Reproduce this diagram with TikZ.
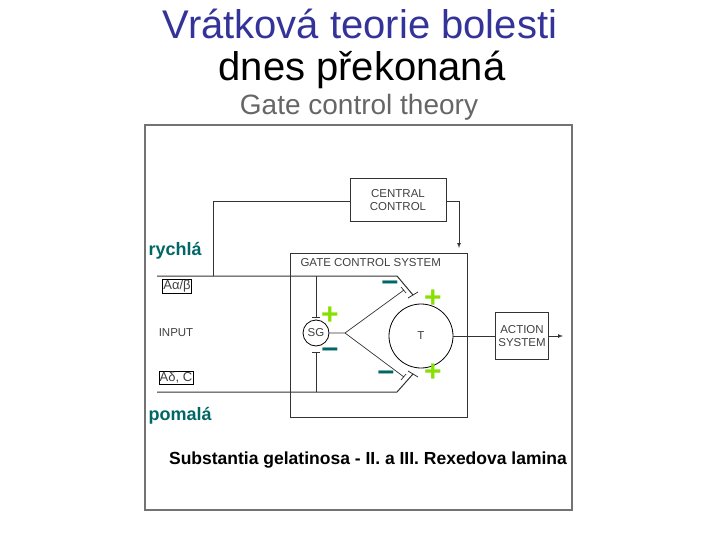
\documentclass[tikz,border=0pt]{standalone}
\usepackage{fontspec}
\setmainfont{Liberation Sans}
\begin{document}
\begin{tikzpicture}[x=1pt,y=-1pt,
  ln/.style={line width=1pt,black!80},
  bx/.style={draw=black!80,line width=0.9pt},
  sm/.style={font=\fontsize{11.5}{12.5}\selectfont,text=black!75,align=center},
  plus/.style={text=green!60!black!30!lime,font=\fontsize{30}{30}\selectfont\bfseries},
  minus/.style={text=teal!80!black,font=\fontsize{30}{30}\selectfont\bfseries},
  lab/.style={text=teal!80!black,font=\fontsize{18}{20}\selectfont\bfseries}]
\useasboundingbox (0,0) rectangle (720,540);
\node (t1) at (360,24) {\fontsize{40}{42}\selectfont\color[rgb]{0.2,0.2,0.6}Vrátková teorie bolesti};
\node (t2) at (362,70) {\fontsize{40}{42}\selectfont dnes překonaná};
\node (t3) at (359,107) {\fontsize{28}{30}\selectfont\color{black!60}Gate control theory};
\draw[draw=black!55,line width=1.8pt] (145,125) rectangle (572,510);
\node[bx,minimum width=96,minimum height=43,sm] (cc) at (398,200) {CENTRAL\\CONTROL};
\draw[bx] (290,253) rectangle (467,417);
\node[sm,anchor=west] (gcs) at (297,263) {GATE CONTROL SYSTEM};
\node[draw,circle,minimum size=26,inner sep=0,sm,line width=0.8pt] (sg) at (316,333) {SG};
\node[draw,circle,minimum size=64,inner sep=0,sm,line width=0.8pt] (T) at (421,336) {T};
\node[bx,minimum width=53,minimum height=47,sm,inner sep=1pt] (as) at (522,336) {ACTION\\SYSTEM};
\node[draw,sm,inner sep=1pt,font=\fontsize{13}{14}\selectfont] (ab) at (177,286) {Aα/β};
\node[sm,font=\fontsize{11.5}{12}\selectfont] (in) at (176,333) {INPUT};
\node[draw,sm,inner sep=1pt,font=\fontsize{13}{14}\selectfont] (ad) at (176,378) {Aδ, C};
\coordinate (a1) at (157,276); \coordinate (a2) at (397,276); \coordinate (a3) at (413,295);
\coordinate (b1) at (157,392); \coordinate (b2) at (397,392); \coordinate (b3) at (413,374);
\coordinate (f) at (345,333);
\draw[ln] (a1) -- (a2) -- (a3);
\draw[ln] (b1) -- (b2) -- (b3);
\draw[ln,line width=0.8pt] (408,298) -- (418,292);
\draw[ln,line width=0.8pt] (408,371) -- (418,377);
\draw[ln,line width=0.7pt] (316,276) -- (316,317) (312,317) -- (320,317);
\draw[ln,line width=0.7pt] (316,392) -- (316,352) (312,352) -- (320,352);
\draw[ln,line width=0.7pt] (sg) -- (f) -- (404,290) (401,287) -- (406,293);
\draw[ln,line width=0.7pt] (f) -- (404,377) (401,380) -- (406,374);
\draw[ln,line width=0.7pt] (cc.west |- 0,201) -- (213,201) -- (213,276);
\draw[ln,line width=0.7pt,-latex] (cc.east |- 0,201) -- (459,201) -- (459,248);
\draw[ln,line width=0.7pt] (T) -- (as);
\draw[ln,line width=0.7pt,-latex] (as) -- (563,336);
\node[plus] (p1) at (433,299) {+};
\node[plus] (p2) at (330,316) {+};
\node[plus] (p3) at (433,373) {+};
\node[minus] (m1) at (390,286) {–};
\node[minus] (m2) at (330,353) {–};
\node[minus] (m3) at (386,376) {–};
\node[lab,anchor=west] (r) at (145,251) {rychlá};
\node[lab,anchor=west] (p) at (145,416) {pomalá};
\node[font=\fontsize{17.5}{19}\selectfont\bfseries] (s) at (368,460) {Substantia gelatinosa - II. a III. Rexedova lamina};
\end{tikzpicture}
\end{document}
